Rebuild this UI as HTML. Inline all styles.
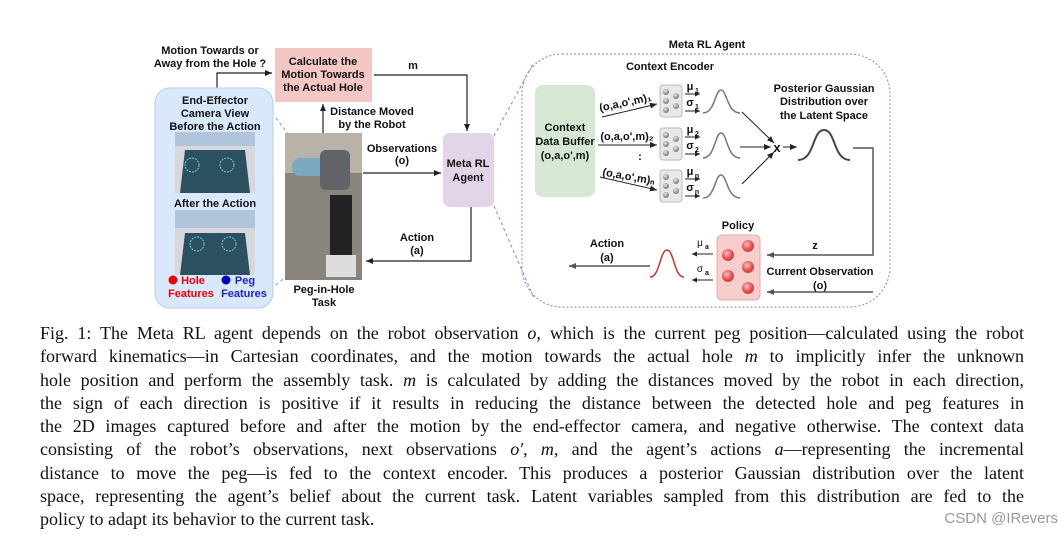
<!DOCTYPE html>
<html><head><meta charset="utf-8"><style>
body{margin:0;width:1064px;height:538px;background:#fff;overflow:hidden;position:relative}
svg{position:absolute;left:0;top:0}
svg text{font-family:"Liberation Sans",sans-serif;font-weight:bold;font-size:11px;fill:#111;text-anchor:middle}
.cap{position:absolute;left:40px;width:984px;font-family:"Liberation Serif",serif;font-size:18px;color:#111;line-height:23.3px;top:322px}
.cap div{text-align:justify;text-align-last:justify;white-space:nowrap;height:23.3px}
.cap div.l{text-align-last:left}
.wm{position:absolute;right:6px;top:510px;font-family:"Liberation Sans",sans-serif;font-size:15px;color:#999}
</style></head><body>
<svg width="1064" height="320" viewBox="0 0 1064 320">
<defs>
<marker id="a" markerWidth="8" markerHeight="8" refX="7" refY="4" orient="auto" markerUnits="userSpaceOnUse"><path d="M0,1 L7,4 L0,7 Z" fill="#222"/></marker>
<marker id="s" markerWidth="6" markerHeight="6" refX="5" refY="3" orient="auto" markerUnits="userSpaceOnUse"><path d="M0,0.5 L5,3 L0,5.5 Z" fill="#222"/></marker>
<marker id="g" markerWidth="8" markerHeight="8" refX="7" refY="4" orient="auto" markerUnits="userSpaceOnUse"><path d="M0,1 L7,4 L0,7 Z" fill="#555"/></marker>
<radialGradient id="gb" cx="0.4" cy="0.35"><stop offset="0" stop-color="#eee"/><stop offset="1" stop-color="#888"/></radialGradient>
<radialGradient id="rb" cx="0.4" cy="0.35"><stop offset="0" stop-color="#fbb"/><stop offset="1" stop-color="#d44"/></radialGradient>
</defs>
<text x="210" y="54">Motion Towards or</text>
<text x="210" y="67">Away from the Hole ?</text>
<polyline points="217,90 217,73 272,73" fill="none" stroke="#222" stroke-width="1.2" marker-end="url(#a)"/>
<rect x="275" y="48" width="97" height="54" fill="#f4c7c5"/>
<text x="323" y="65">Calculate the</text>
<text x="323" y="78">Motion Towards</text>
<text x="323" y="91">the Actual Hole</text>
<rect x="155" y="88" width="118" height="220" rx="15" fill="#dae8fc" stroke="#b5cdee"/>
<text x="215" y="104">End-Effector</text>
<text x="215" y="117">Camera View</text>
<text x="215" y="130">Before the Action</text>
<rect x="175" y="132" width="80" height="61" fill="#d8d8dc"/>
<polygon points="185,150 245,150 250,193 180,193" fill="#2d5060"/>
<rect x="175" y="132" width="80" height="14" fill="#b0c4dc"/>
<circle cx="192" cy="165" r="7" fill="none" stroke="#5dd" stroke-dasharray="2,1"/>
<circle cx="227" cy="165" r="7" fill="none" stroke="#5dd" stroke-dasharray="2,1"/>
<text x="215" y="207">After the Action</text>
<rect x="175" y="210" width="80" height="65" fill="#d8d8dc"/>
<polygon points="185,233 245,233 250,275 180,275" fill="#2d5060"/>
<rect x="175" y="210" width="80" height="18" fill="#b0c4dc"/>
<circle cx="197" cy="244" r="7" fill="none" stroke="#5dd" stroke-dasharray="2,1"/>
<circle cx="229" cy="244" r="7" fill="none" stroke="#5dd" stroke-dasharray="2,1"/>
<circle cx="173" cy="280" r="4.5" fill="#e00"/>
<text x="193" y="284" style="fill:#e00">Hole</text>
<text x="191" y="297" style="fill:#e00">Features</text>
<circle cx="226" cy="280" r="4.5" fill="#00b"/>
<text x="245" y="284" style="fill:#22c">Peg</text>
<text x="244" y="297" style="fill:#22c">Features</text>
<line x1="276" y1="118" x2="330" y2="190" stroke="#6a9ad6" stroke-dasharray="3,3"/>
<line x1="276" y1="285" x2="300" y2="265" stroke="#6a9ad6" stroke-dasharray="3,3"/>
<rect x="285" y="133" width="77" height="147" fill="#8a857c"/>
<rect x="285" y="133" width="77" height="40" fill="#b8b2a8"/>
<rect x="292" y="158" width="40" height="18" rx="8" fill="#7aa8c0"/>
<rect x="320" y="150" width="30" height="40" rx="6" fill="#606468"/>
<rect x="330" y="195" width="22" height="60" fill="#222"/>
<rect x="326" y="255" width="30" height="22" fill="#ddd"/>
<text x="324" y="293">Peg-in-Hole</text>
<text x="324" y="306">Task</text>
<line x1="323" y1="133" x2="323" y2="104" stroke="#222" stroke-width="1.2" marker-end="url(#a)"/>
<text x="372" y="115">Distance Moved</text>
<text x="372" y="128">by the Robot</text>
<text x="413" y="69">m</text>
<polyline points="374,75 467,75 467,131" fill="none" stroke="#222" stroke-width="1.2" marker-end="url(#a)"/>
<rect x="443" y="133" width="51" height="74" rx="7" fill="#e1d5e7"/>
<text x="468" y="167">Meta RL</text>
<text x="468" y="181">Agent</text>
<text x="402" y="152">Observations</text>
<text x="402" y="164">(o)</text>
<line x1="363" y1="173" x2="441" y2="173" stroke="#222" stroke-width="1.2" marker-end="url(#a)"/>
<text x="417" y="241">Action</text>
<text x="417" y="254">(a)</text>
<polyline points="471,207 471,261 366,261" fill="none" stroke="#222" stroke-width="1.2" marker-end="url(#a)"/>
<line x1="494" y1="136" x2="534" y2="62" stroke="#a07ab8" stroke-dasharray="3,3"/>
<line x1="494" y1="206" x2="534" y2="298" stroke="#a07ab8" stroke-dasharray="3,3"/>
<text x="707" y="48">Meta RL Agent</text>
<rect x="522" y="54" width="368" height="253" rx="40" fill="none" stroke="#a07ab8" stroke-dasharray="2,2"/>
<text x="670" y="70">Context Encoder</text>
<rect x="535" y="85" width="60" height="112" rx="8" fill="#d5e8d4"/>
<text x="565" y="131">Context</text>
<text x="565" y="145">Data Buffer</text>
<text x="565" y="159">(o,a,o',m)</text>
<text x="626" y="106" transform="rotate(-12 626 106)">(o,a,o',m)₁</text>
<line x1="602" y1="117" x2="657" y2="104" stroke="#222" marker-end="url(#a)"/>
<text x="627" y="140">(o,a,o',m)₂</text>
<line x1="598" y1="145" x2="657" y2="145" stroke="#222" marker-end="url(#a)"/>
<text x="640" y="160">:</text>
<text x="628" y="180" transform="rotate(10 628 180)">(o,a,o',m)ₙ</text>
<line x1="600" y1="177" x2="657" y2="190" stroke="#222" marker-end="url(#a)"/>
<g id="enc">
<rect x="660" y="85" width="22" height="32" rx="3" fill="#e8e8e8" stroke="#bbb"/>
<circle cx="666" cy="92" r="3" fill="url(#gb)"/><circle cx="676" cy="96" r="3" fill="url(#gb)"/>
<circle cx="666" cy="101" r="3" fill="url(#gb)"/><circle cx="676" cy="106" r="3" fill="url(#gb)"/>
<circle cx="666" cy="110" r="3" fill="url(#gb)"/>
</g>
<use href="#enc" y="43"/><use href="#enc" y="85"/>
<g style="font-size:10px;font-weight:normal">
<text x="690" y="90">μ</text><text x="697" y="93" style="font-size:7px">1</text>
<text x="690" y="106">σ</text><text x="697" y="109" style="font-size:7px">1</text>
<text x="690" y="133">μ</text><text x="697" y="136" style="font-size:7px">2</text>
<text x="690" y="149">σ</text><text x="697" y="152" style="font-size:7px">2</text>
<text x="690" y="175">μ</text><text x="697" y="178" style="font-size:7px">n</text>
<text x="690" y="191">σ</text><text x="697" y="194" style="font-size:7px">n</text>
</g>
<g stroke="#222" marker-end="url(#s)">
<line x1="685" y1="94" x2="700" y2="94"/><line x1="685" y1="111" x2="700" y2="111"/>
<line x1="685" y1="137" x2="700" y2="137"/><line x1="685" y1="154" x2="700" y2="154"/>
<line x1="685" y1="179" x2="700" y2="179"/><line x1="685" y1="196" x2="700" y2="196"/>
</g>
<g fill="none" stroke="#777" stroke-width="1.5">
<path d="M703,113 C715,113 715,90 721,90 C727,90 727,113 740,113"/>
<path d="M703,158 C715,158 715,133 721,133 C727,133 727,158 740,158"/>
<path d="M703,198 C715,198 715,175 721,175 C727,175 727,198 740,198"/>
</g>
<g stroke="#222" marker-end="url(#a)">
<line x1="742" y1="112" x2="774" y2="143"/>
<line x1="740" y1="147" x2="771" y2="147"/>
<line x1="742" y1="184" x2="774" y2="152"/>
<line x1="783" y1="147" x2="797" y2="147"/>
</g>
<text x="777" y="152" style="font-size:13px">x</text>
<path d="M798,160 C815,160 812,130 824,130 C836,130 833,160 850,160" fill="none" stroke="#444" stroke-width="2"/>
<text x="824" y="92">Posterior Gaussian</text>
<text x="824" y="105">Distribution over</text>
<text x="824" y="119">the Latent Space</text>
<polyline points="853,148 873,148 873,255 767,255" fill="none" stroke="#555" stroke-width="1.5" marker-end="url(#g)"/>
<text x="815" y="249">z</text>
<text x="738" y="229">Policy</text>
<rect x="717" y="235" width="43" height="65" rx="5" fill="#f8cecc" stroke="#e8aaaa"/>
<circle cx="728" cy="255" r="6" fill="url(#rb)"/><circle cx="748" cy="246" r="6" fill="url(#rb)"/>
<circle cx="748" cy="267" r="6" fill="url(#rb)"/><circle cx="728" cy="276" r="6" fill="url(#rb)"/>
<circle cx="748" cy="288" r="6" fill="url(#rb)"/>
<text x="820" y="275">Current Observation</text>
<text x="820" y="289">(o)</text>
<line x1="873" y1="292" x2="767" y2="292" stroke="#555" stroke-width="1.5" marker-end="url(#g)"/>
<text x="700" y="246" style="font-size:10px;font-weight:normal">μ</text><text x="707" y="249" style="font-size:7px">a</text>
<text x="700" y="272" style="font-size:10px;font-weight:normal">σ</text><text x="707" y="275" style="font-size:7px">a</text>
<line x1="713" y1="254" x2="692" y2="254" stroke="#222" marker-end="url(#s)"/>
<line x1="713" y1="280" x2="692" y2="280" stroke="#222" marker-end="url(#s)"/>
<path d="M650,277 C660,277 660,250 667,250 C674,250 674,277 684,277" fill="none" stroke="#c33" stroke-width="1.5"/>
<line x1="650" y1="266" x2="569" y2="266" stroke="#555" stroke-width="1.5" marker-end="url(#g)"/>
<text x="607" y="247">Action</text>
<text x="607" y="261">(a)</text>
</svg>
<div class="cap">
<div>Fig. 1: The Meta RL agent depends on the robot observation <i>o</i>, which is the current peg position—calculated using the robot</div>
<div>forward kinematics—in Cartesian coordinates, and the motion towards the actual hole <i>m</i> to implicitly infer the unknown</div>
<div>hole position and perform the assembly task. <i>m</i> is calculated by adding the distances moved by the robot in each direction,</div>
<div>the sign of each direction is positive if it results in reducing the distance between the detected hole and peg features in</div>
<div>the 2D images captured before and after the motion by the end-effector camera, and negative otherwise. The context data</div>
<div>consisting of the robot’s observations, next observations <i>o′</i>, <i>m</i>, and the agent’s actions <i>a</i>—representing the incremental</div>
<div>distance to move the peg—is fed to the context encoder. This produces a posterior Gaussian distribution over the latent</div>
<div>space, representing the agent’s belief about the current task. Latent variables sampled from this distribution are fed to the</div>
<div class="l">policy to adapt its behavior to the current task.</div>
</div>
<div class="wm">CSDN @IRevers</div>
</body></html>
